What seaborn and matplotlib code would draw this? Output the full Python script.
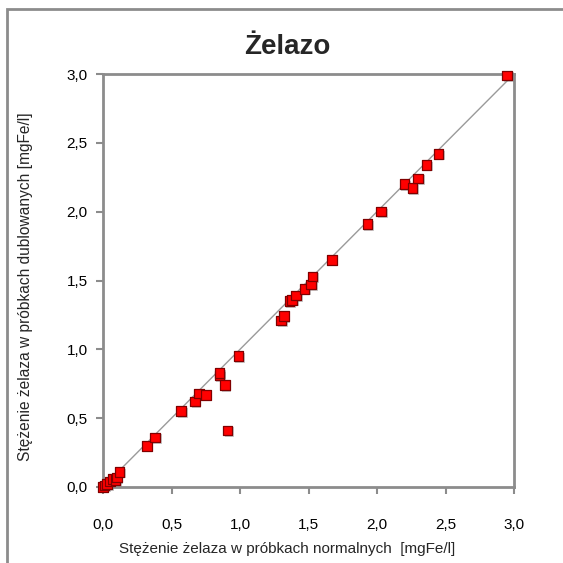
import numpy as np
import pandas as pd
import seaborn as sns
import matplotlib
matplotlib.use("Agg")
import matplotlib.pyplot as plt
from matplotlib.ticker import FuncFormatter
from matplotlib.patches import Rectangle
import matplotlib.patheffects as pe

# Data (mgFe/l)
normal = [0.00, 0.01, 0.03, 0.05, 0.07, 0.09, 0.10, 0.12, 0.32, 0.38, 0.57, 0.67,
          0.70, 0.75, 0.85, 0.85, 0.89, 0.91, 0.99, 1.30, 1.32, 1.36, 1.38, 1.41,
          1.47, 1.52, 1.53, 1.67, 1.93, 2.03, 2.20, 2.26, 2.30, 2.36, 2.45, 2.95]
duplicate = [0.00, 0.01, 0.02, 0.04, 0.06, 0.05, 0.07, 0.11, 0.30, 0.36, 0.55, 0.62,
             0.68, 0.67, 0.81, 0.83, 0.74, 0.41, 0.95, 1.21, 1.24, 1.35, 1.36, 1.39,
             1.44, 1.47, 1.53, 1.65, 1.91, 2.00, 2.20, 2.17, 2.24, 2.34, 2.42, 2.99]
line_ends = [0.0, 3.0]
ticks = [0.0, 0.5, 1.0, 1.5, 2.0, 2.5, 3.0]

title = "Żelazo"
xlabel = "Stężenie żelaza w próbkach normalnych  [mgFe/l]"
ylabel = "Stężenie żelaza w próbkach dublowanych [mgFe/l]"

df = pd.DataFrame({"normal": normal, "duplicate": duplicate})

sns.set_style("white")
plt.rcParams["font.family"] = ["Liberation Sans", "DejaVu Sans"]

fig = plt.figure(figsize=(5.63, 5.63), dpi=100)
ax = fig.add_axes([103/563, 1 - 487/563, (514-103)/563, (487-74)/563])

# outer frame (chart area border)
fig.patches.append(Rectangle((7/563, -0.1), 1.2, 1 - 9/563 + 0.1, transform=fig.transFigure,
                             fill=False, edgecolor="#8c8c8c", linewidth=2, zorder=0))

ax.plot(line_ends, line_ends, color="#9a9a9a", linewidth=1.0, zorder=1)

sns.scatterplot(data=df, x="normal", y="duplicate", ax=ax, marker="s", s=48,
                color="#ff0000", edgecolor="#800000", linewidth=0.9, zorder=3,
                clip_on=False)
for coll in ax.collections:
    coll.set_path_effects([pe.SimplePatchShadow(offset=(1.2, -1.2), shadow_rgbFace="#888888", alpha=0.45),
                           pe.Normal()])

ax.set_xlim(0, 3.0)
ax.set_ylim(0, 3.0)
ax.set_xticks(ticks)
ax.set_yticks(ticks)
fmt = FuncFormatter(lambda v, p: f"{v:.1f}".replace(".", ","))
ax.xaxis.set_major_formatter(fmt)
ax.yaxis.set_major_formatter(fmt)

for s in ax.spines.values():
    s.set_color("#8c8c8c")
    s.set_linewidth(2)
    s.set_visible(True)

ax.tick_params(axis="both", direction="out", length=5, width=1.5, color="#8c8c8c",
               labelsize=11, labelcolor="black", bottom=True, left=True)
ax.tick_params(axis="x", pad=17)
ax.tick_params(axis="y", pad=6)

ax.set_xlabel(xlabel, fontsize=11)
ax.set_ylabel(ylabel, fontsize=11.2)
ax.xaxis.set_label_coords((287 - 103) / 411, -(549 - 487) / 413)
ax.yaxis.set_label_coords(-(103 - 26) / 411, (487 - 287) / 413)
ax.xaxis.label.set_va("center")
ax.yaxis.label.set_va("center")
ax.text((287 - 103) / 411, (487 - 47) / 413, title, transform=ax.transAxes,
        ha="center", va="center", fontsize=20, fontweight="bold")

fig.savefig("out.png", dpi=100)
